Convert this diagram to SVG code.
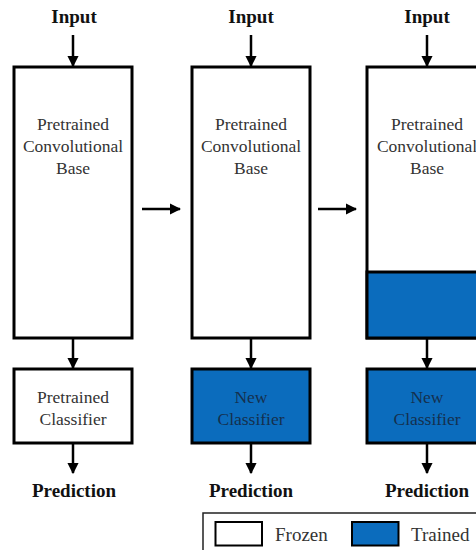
<svg xmlns="http://www.w3.org/2000/svg" width="476" height="550" viewBox="0 0 476 550">
<defs>
<marker id="ah" viewBox="0 0 10 10" refX="9" refY="5" markerWidth="4.5" markerHeight="4.5" orient="auto" markerUnits="strokeWidth"><path d="M0,0 L10,5 L0,10 z" fill="#000"/></marker>
<style>
text{font-family:'Liberation Serif','DejaVu Serif',serif}
.box{stroke:#000;stroke-width:3;fill:#fff}
.blue{fill:#0b6cbd}
.lbl{font-size:17.5px;fill:#333;text-anchor:middle}
.blbl{font-size:17.5px;fill:#15304e;text-anchor:middle}
.hd{font-size:19px;font-weight:bold;fill:#111;text-anchor:middle}
.conn{stroke:#000;stroke-width:2.5;fill:none;marker-end:url(#ah)}
.leg{font-size:19px;fill:#333}
</style>
</defs>
<rect width="476" height="550" fill="#fff"/>
<g id="connectors">
<line class="conn" x1="73" y1="35" x2="73" y2="66"/>
<line class="conn" x1="251" y1="35" x2="251" y2="66"/>
<line class="conn" x1="427" y1="35" x2="427" y2="66"/>
<line class="conn" x1="73" y1="339" x2="73" y2="368"/>
<line class="conn" x1="251" y1="339" x2="251" y2="368"/>
<line class="conn" x1="427" y1="339" x2="427" y2="368"/>
<line class="conn" x1="73" y1="444" x2="73" y2="473"/>
<line class="conn" x1="251" y1="444" x2="251" y2="473"/>
<line class="conn" x1="427" y1="444" x2="427" y2="473"/>
<line class="conn" x1="142" y1="209" x2="180" y2="209"/>
<line class="conn" x1="318" y1="209" x2="356" y2="209"/>
</g>
<g id="input1"><text class="hd" x="74" y="23">Input</text></g>
<g id="input2"><text class="hd" x="251" y="23">Input</text></g>
<g id="input3"><text class="hd" x="427" y="23">Input</text></g>
<g id="base1"><rect class="box" x="14" y="67" width="118" height="271"/>
<text class="lbl" x="73" y="130">Pretrained</text><text class="lbl" x="73" y="152">Convolutional</text><text class="lbl" x="73" y="174">Base</text></g>
<g id="base2"><rect class="box" x="192" y="67" width="118" height="271"/>
<text class="lbl" x="251" y="130">Pretrained</text><text class="lbl" x="251" y="152">Convolutional</text><text class="lbl" x="251" y="174">Base</text></g>
<g id="base3"><rect class="box" x="367" y="67" width="120" height="271"/>
<rect class="box blue" x="367" y="272" width="120" height="66"/>
<text class="lbl" x="427" y="130">Pretrained</text><text class="lbl" x="427" y="152">Convolutional</text><text class="lbl" x="427" y="174">Base</text></g>
<g id="cls1"><rect class="box" x="14" y="369" width="118" height="74"/>
<text class="lbl" x="73" y="403">Pretrained</text><text class="lbl" x="73" y="425">Classifier</text></g>
<g id="cls2"><rect class="box blue" x="192" y="369" width="118" height="74"/>
<text class="blbl" x="251" y="403">New</text><text class="blbl" x="251" y="425">Classifier</text></g>
<g id="cls3"><rect class="box blue" x="367" y="369" width="120" height="74"/>
<text class="blbl" x="427" y="403">New</text><text class="blbl" x="427" y="425">Classifier</text></g>
<g id="pred1"><text class="hd" x="74" y="497">Prediction</text></g>
<g id="pred2"><text class="hd" x="251" y="497">Prediction</text></g>
<g id="pred3"><text class="hd" x="427" y="497">Prediction</text></g>
<g id="legend">
<rect x="203" y="513" width="290" height="50" fill="#fff" stroke="#222" stroke-width="1.5"/>
<rect x="215.5" y="522" width="46.5" height="23.5" fill="#fff" stroke="#000" stroke-width="2"/>
<text class="leg" x="275" y="541">Frozen</text>
<rect x="352" y="522" width="46.5" height="23.5" class="blue" stroke="#000" stroke-width="2"/>
<text class="leg" x="411" y="541">Trained</text>
</g>
</svg>
